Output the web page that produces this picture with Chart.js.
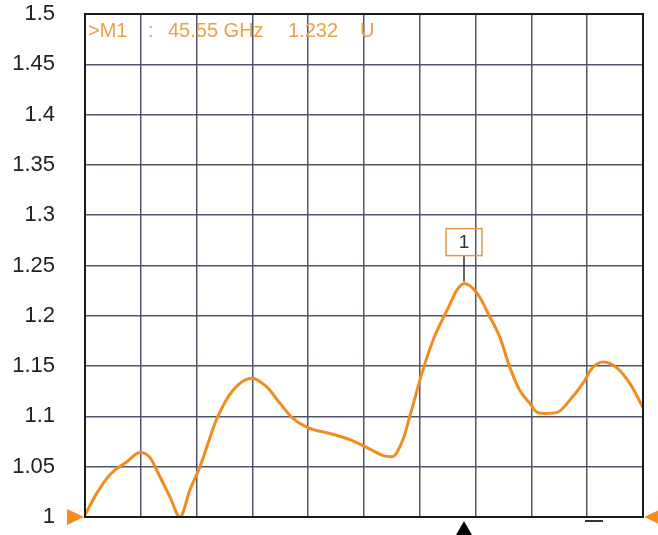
<!DOCTYPE html>
<html>
<head>
<meta charset="utf-8">
<script src="https://cdn.jsdelivr.net/npm/chart.js@4.4.0/dist/chart.umd.min.js"></script>
<style>
  html, body { margin: 0; padding: 0; background: #fff; }
  #wrap { width: 658px; height: 535px; }
</style>
</head>
<body>
<div id="wrap"><canvas id="swrChart" width="658" height="535"></canvas></div>
<script>
// trace (frequency in GHz, value in U)
var freqGHz = [0, 1.44, 3.0, 5.04, 6.6, 7.8, 9.0, 10.2, 11.4, 12.6, 13.8, 15.85, 17.77, 20.05,
               21.85, 23.41, 24.97, 27.0, 29.4, 31.8, 33.86, 35.8, 36.86, 38.18, 39.0, 40.46,
               41.8, 43.5, 44.7, 45.55, 47.2, 48.6, 49.8, 51.0, 52.2, 53.4, 54.3, 55.2, 56.7,
               58.2, 59.8, 60.9, 62.2, 63.9, 65.4, 67.0];
var swrValues = [1.002, 1.024, 1.042, 1.055, 1.064, 1.059, 1.040, 1.020, 1.000, 1.027, 1.050, 1.098,
                 1.126, 1.138, 1.129, 1.113, 1.098, 1.088, 1.083, 1.077, 1.069, 1.061, 1.060, 1.077,
                 1.100, 1.143, 1.176, 1.206, 1.226, 1.232, 1.221, 1.199, 1.179, 1.149, 1.126, 1.113,
                 1.104, 1.103, 1.104, 1.116, 1.133, 1.148, 1.154, 1.148, 1.133, 1.109];
var yTickLabels = ['1', '1.05', '1.1', '1.15', '1.2', '1.25', '1.3', '1.35', '1.4', '1.45', '1.5'];
var xSpan = [0, 67];
var markerFreq = [45.55];
var markerValue = [1.232];
var markerNames = ['1'];

var traceColor = 'rgb(242,140,32)';

var vnaMarks = {
    id: 'vnaMarks',
    afterDatasetsDraw: function (chart) {
        var ctx = chart.ctx, a = chart.chartArea;
        var xs = chart.scales.x, ys = chart.scales.y;
        ctx.save();

        // frame
        ctx.strokeStyle = '#1a1a1a';
        ctx.lineWidth = 2;
        ctx.strokeRect(a.left, a.top, a.right - a.left, a.bottom - a.top);

        // marker flag
        var mx = Math.round(xs.getPixelForValue(markerFreq[0]));
        var my = ys.getPixelForValue(markerValue[0]);
        ctx.strokeStyle = '#333';
        ctx.lineWidth = 1.5;
        ctx.beginPath();
        ctx.moveTo(mx, my - 2);
        ctx.lineTo(mx, my - 28);
        ctx.stroke();
        ctx.strokeStyle = 'rgb(235,150,70)';
        ctx.lineWidth = 1.5;
        ctx.strokeRect(mx - 18, my - 55, 36, 27);
        ctx.fillStyle = '#333';
        ctx.font = '19px "Liberation Sans", Arial, sans-serif';
        ctx.textAlign = 'center';
        ctx.textBaseline = 'middle';
        ctx.fillText(markerNames[0], mx, my - 41);

        // marker triangle under axis
        ctx.fillStyle = '#000';
        ctx.beginPath();
        ctx.moveTo(mx, a.bottom + 4);
        ctx.lineTo(mx - 8, a.bottom + 18);
        ctx.lineTo(mx + 8, a.bottom + 18);
        ctx.closePath();
        ctx.fill();

        // small dash
        ctx.fillStyle = '#333';
        ctx.fillRect(585, a.bottom + 3, 18, 2);

        // reference triangles
        ctx.fillStyle = 'rgb(245,140,30)';
        var ry = ys.getPixelForValue(1);
        ctx.beginPath();
        ctx.moveTo(a.left - 1, ry);
        ctx.lineTo(a.left - 18, ry - 8);
        ctx.lineTo(a.left - 18, ry + 8);
        ctx.closePath();
        ctx.fill();
        ctx.beginPath();
        ctx.moveTo(a.right + 1, ry);
        ctx.lineTo(a.right + 18, ry - 8);
        ctx.lineTo(a.right + 18, ry + 8);
        ctx.closePath();
        ctx.fill();

        // marker readout
        ctx.fillStyle = 'rgb(238,160,70)';
        ctx.font = '20px "Liberation Sans", Arial, sans-serif';
        ctx.textAlign = 'left';
        ctx.textBaseline = 'middle';
        ctx.fillText('>M1', a.left + 3, a.top + 17);
        ctx.fillText(':', a.left + 63, a.top + 17);
        ctx.fillText(markerFreq[0].toFixed(2) + ' GHz', a.left + 83, a.top + 17);
        ctx.fillText(markerValue[0].toFixed(3), a.left + 203, a.top + 17);
        ctx.fillText('U', a.left + 275, a.top + 17);
        ctx.restore();
    }
};

var swrChart = new Chart(document.getElementById('swrChart'), {
    type: 'line',
    data: {
        datasets: [{
            data: freqGHz.map(function (f, i) { return {x: f, y: swrValues[i]}; }),
            borderColor: traceColor,
            borderWidth: 3,
            pointRadius: 0,
            cubicInterpolationMode: 'monotone',
            fill: false
        }]
    },
    options: {
        responsive: false,
        animation: false,
        layout: { padding: { left: 0, right: 15, top: 14, bottom: 18 } },
        plugins: { legend: { display: false }, tooltip: { enabled: false } },
        scales: {
            x: {
                type: 'linear',
                min: xSpan[0],
                max: xSpan[1],
                ticks: { display: false, stepSize: 6.7 },
                grid: { color: '#50546a', lineWidth: 1.5, drawTicks: false },
                border: { color: '#1a1a1a', width: 2 },
                afterFit: function (axis) { axis.height = 0; }
            },
            y: {
                min: 1,
                max: 1.5,
                afterBuildTicks: function (axis) {
                    axis.ticks = yTickLabels.map(function (t) { return {value: parseFloat(t)}; });
                },
                ticks: {
                    padding: 30,
                    color: '#222',
                    font: { family: '"Liberation Sans", Arial, sans-serif', size: 22 },
                    callback: function (v, i) { return yTickLabels[i]; }
                },
                grid: { color: '#50546a', lineWidth: 1.5, drawTicks: false },
                border: { color: '#1a1a1a', width: 2 },
                afterFit: function (axis) {
                    axis.width = 85;
                    axis.paddingTop = 12;
                    axis.paddingBottom = 12;
                }
            }
        }
    },
    plugins: [vnaMarks]
});
</script>
</body>
</html>
